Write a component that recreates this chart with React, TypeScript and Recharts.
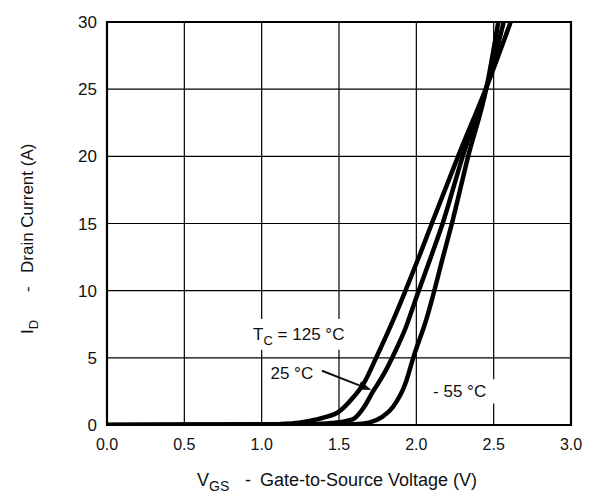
import {
  LineChart,
  Line,
  XAxis,
  YAxis,
  CartesianGrid,
  ReferenceArea,
  ReferenceLine,
  Label,
} from "recharts";

const vTicks = [0, 0.5, 1, 1.5, 2, 2.5, 3];
const iTicks = [0, 5, 10, 15, 20, 25, 30];

// Tc = 125 °C
const vgs125 = [0, 0.5, 1.0, 1.2, 1.3, 1.4, 1.5, 1.58, 1.66, 1.74, 1.86, 1.93, 2.02, 2.1, 2.27, 2.455, 2.61];
const id125 = [0, 0.03, 0.05, 0.12, 0.28, 0.55, 1.0, 1.9, 3.1, 5.0, 8.06, 10, 12.6, 15, 20, 25.2, 30];

// Tc = 25 °C
const vgs25 = [0, 1.0, 1.3, 1.45, 1.55, 1.6, 1.66, 1.72, 1.79, 1.86, 1.93, 2.0, 2.1, 2.17, 2.3, 2.455, 2.565];
const id25 = [0, 0.02, 0.06, 0.15, 0.3, 0.5, 1.3, 2.5, 3.8, 5.4, 7.2, 9.5, 12.7, 15, 20, 25.2, 30];

// Tc = -55 °C
const vgs55 = [0, 1.4, 1.6, 1.7, 1.78, 1.85, 1.93, 1.98, 2.07, 2.1, 2.17, 2.23, 2.335, 2.455, 2.53];
const id55 = [0, 0.02, 0.06, 0.2, 0.6, 1.36, 3.1, 5.0, 8.06, 9.3, 12.4, 15, 20, 25.2, 30];

const toPoints = (vs: number[], is: number[]) => vs.map((v, k) => ({ v, i: is[k] }));

const font = "'Liberation Sans', Arial, Helvetica, sans-serif";
const ink = "#111";

const boxLabel = (parts: { t: string; sub?: boolean }[]) => (props: any) => {
  const vb = props.viewBox;
  const cx = vb.x + vb.width / 2;
  const cy = vb.y + vb.height / 2 + 6;
  return (
    <text x={cx} y={cy} textAnchor="middle" fontFamily={font} fontSize={17} fill={ink}>
      {parts.map((p, k) =>
        p.sub ? (
          <tspan key={k} fontSize={13} dy={5}>
            {p.t}
          </tspan>
        ) : (
          <tspan key={k} dy={k > 0 && parts[k - 1].sub ? -5 : 0}>
            {p.t}
          </tspan>
        )
      )}
    </text>
  );
};

const Arrow = (props: any) => {
  const { x1, y1, x2, y2 } = props;
  const ang = Math.atan2(y2 - y1, x2 - x1);
  const len = 13;
  const w = 4.5;
  const bx = x2 - len * Math.cos(ang);
  const by = y2 - len * Math.sin(ang);
  const px = -Math.sin(ang) * w;
  const py = Math.cos(ang) * w;
  return (
    <g>
      <line x1={x1} y1={y1} x2={bx} y2={by} stroke={ink} strokeWidth={2} />
      <polygon points={`${x2},${y2} ${bx + px},${by + py} ${bx - px},${by - py}`} fill={ink} />
    </g>
  );
};

const XTitle = () => (
  <text y={486} fontFamily={font} fontSize={18} fill={ink}>
    <tspan x={197}>V</tspan>
    <tspan fontSize={14} dy={5}>GS</tspan>
    <tspan x={245} dy={-5}>-</tspan>
    <tspan x={260}>Gate-to-Source Voltage (V)</tspan>
  </text>
);

const YTitle = () => (
  <g transform="translate(33 0) rotate(-90)">
    <text y={0} fontFamily={font} fontSize={17} fill={ink}>
      <tspan x={-334}>I</tspan>
      <tspan fontSize={13} dy={5}>D</tspan>
      <tspan x={-292} dy={-5}>-</tspan>
      <tspan x={-273}>Drain Current (A)</tspan>
    </text>
  </g>
);

export default function App() {
  return (
    <div style={{ position: "absolute", left: 0, top: 0, background: "#fff" }}>
      <LineChart width={590} height={497} margin={{ top: 22, right: 19, bottom: 42, left: 47 }}>
        <CartesianGrid stroke="#000" strokeWidth={1.2} horizontalValues={iTicks} verticalValues={vTicks} />
        <XAxis
          type="number"
          dataKey="v"
          domain={[0, 3]}
          ticks={vTicks}
          tickFormatter={(t: number) => t.toFixed(1)}
          tickLine={false}
          axisLine={false}
          height={30}
          tick={{ fontSize: 16, fill: ink, fontFamily: font, dy: 6 }}
          allowDataOverflow
        >
          <Label content={XTitle} />
        </XAxis>
        <YAxis
          type="number"
          domain={[0, 30]}
          ticks={iTicks}
          tickLine={false}
          axisLine={false}
          width={60}
          tick={{ fontSize: 17, fill: ink, fontFamily: font, dx: -2 }}
          allowDataOverflow
        >
          <Label content={YTitle} />
        </YAxis>
        <ReferenceArea
          x1={0.89}
          x2={1.59}
          y1={5.6}
          y2={7.9}
          fill="#fff"
          fillOpacity={1}
          stroke="none"
          label={{ content: boxLabel([{ t: "T" }, { t: "C", sub: true }, { t: " = 125 °C" }]) }}
        />
        <ReferenceArea
          x1={1.02}
          x2={1.37}
          y1={3.0}
          y2={4.8}
          fill="#fff"
          fillOpacity={1}
          stroke="none"
          label={{ content: boxLabel([{ t: "25 °C" }]) }}
        />
        <ReferenceArea
          x1={2.04}
          x2={2.52}
          y1={1.6}
          y2={3.4}
          fill="#fff"
          fillOpacity={1}
          stroke="none"
          label={{ content: boxLabel([{ t: "- 55 °C" }]) }}
        />
        <ReferenceLine
          segment={[
            { x: 1.39, y: 4.04 },
            { x: 1.71, y: 2.6 },
          ]}
          shape={Arrow}
        />
        <Line
          data={toPoints(vgs125, id125)}
          dataKey="i"
          type="monotone"
          stroke="#000"
          strokeWidth={4.5}
          dot={false}
          isAnimationActive={false}
        />
        <Line
          data={toPoints(vgs25, id25)}
          dataKey="i"
          type="monotone"
          stroke="#000"
          strokeWidth={4.5}
          dot={false}
          isAnimationActive={false}
        />
        <Line
          data={toPoints(vgs55, id55)}
          dataKey="i"
          type="monotone"
          stroke="#000"
          strokeWidth={4.5}
          dot={false}
          isAnimationActive={false}
        />
        <ReferenceArea
          x1={0}
          x2={3}
          y1={0}
          y2={30}
          fill="none"
          stroke="#000"
          strokeWidth={2.2}
          ifOverflow="visible"
        />
      </LineChart>
    </div>
  );
}
